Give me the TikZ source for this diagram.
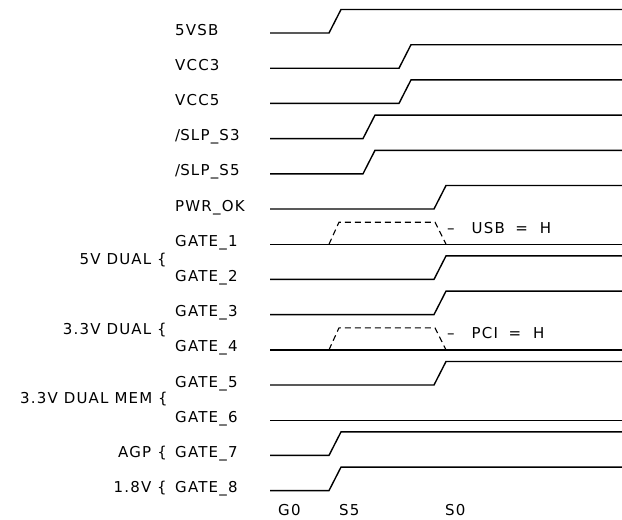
\documentclass[tikz,border=0pt]{standalone}
\usepackage{fontspec}
\setmainfont{DejaVu Sans}[LetterSpace=8]

\begin{document}
\begin{tikzpicture}[
  x=1pt, y=-1pt,
  every node/.style={font=\fontsize{15}{18}\selectfont,inner sep=0pt},
  signal/.style={anchor=base west},
  group/.style={anchor=base east},
  wave/.style={line width=1.4pt},
  maybe/.style={line width=1.1pt,dash pattern=on 6pt off 4pt}]

  \useasboundingbox (0,0) rectangle (622,520);

  % signal names, one row every 35.2
  \foreach \row/\name in {0/5VSB,1/VCC3,2/VCC5,3/\slash SLP\_S3,4/\slash SLP\_S5,
      5/PWR\_OK,6/GATE\_1,7/GATE\_2,8/GATE\_3,9/GATE\_4,10/GATE\_5,
      11/GATE\_6,12/GATE\_7,13/GATE\_8}
    \node[signal] (sig\row) at (175,{35+35.2*\row}) {\name};

  % groups
  \node[group] (dualfive)  at (167,264) {5V DUAL \{};
  \node[group] (dualthree) at (167,334) {3.3V DUAL \{};
  \node[group] (dualmem)   at (168,403) {3.3V DUAL MEM \{};
  \node[group] (agp)       at (167,457) {AGP \{};
  \node[group] (onepoint)  at (167,492) {1.8V \{};

  % rising waves
  \foreach \row/\t in {0/329,1/399,2/399,3/363,4/363,5/434,7/434,8/434,10/434,12/329,13/329}
    \draw[wave] (270,{33+35.2*\row}) -- (\t,{33+35.2*\row}) -- ++(12,-23.5)
      -- (622,{33+35.2*\row-23.5});

  % flat waves
  \foreach \row in {6,9,11}
    \draw[wave] (270,{33+35.2*\row}) -- (622,{33+35.2*\row});

  % optional pulses
  \foreach \row in {6,9}
    \draw[maybe] (329,{33+35.2*\row}) -- ++(10,-22) -- (435,{33+35.2*\row-22})
      -- (446,{33+35.2*\row});

  \node[signal] (usb) at (447,233) {--\hspace{17pt}USB\hspace{10.5pt}=\hspace{12pt}H};
  \node[signal] (pci) at (447,338) {--\hspace{17pt}PCI\hspace{10.5pt}=\hspace{12pt}H};

  % states
  \node[signal] (gzero) at (278,515) {G0};
  \node[signal] (sfive) at (339,515) {S5};
  \node[signal] (szero) at (445,515) {S0};

\end{tikzpicture}
\end{document}
